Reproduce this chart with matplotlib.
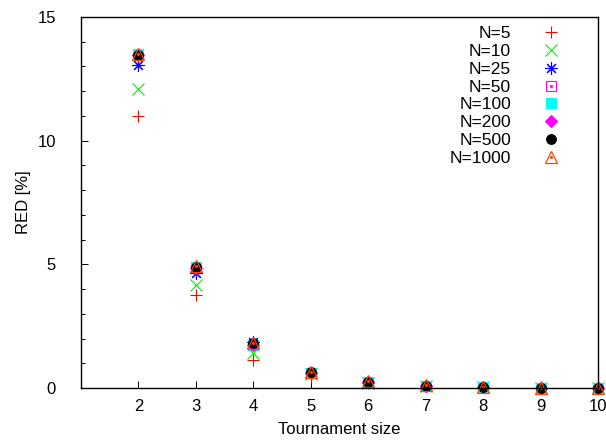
import numpy as np
import matplotlib
matplotlib.use("Agg")
import matplotlib.pyplot as plt
from matplotlib.legend_handler import HandlerTuple

plt.rcParams["font.family"] = ["Liberation Sans", "DejaVu Sans"]

# ==================================================
# Daten
# ==================================================
tournament = [2, 3, 4, 5, 6, 7, 8, 9, 10]

labels = ["N=5", "N=10", "N=25", "N=50", "N=100", "N=200", "N=500", "N=1000"]

red_n5 = [11.0, 3.75, 1.15, 0.45, 0.2, 0.08, 0.04, 0.02, 0.01]
red_n10 = [12.1, 4.15, 1.4, 0.55, 0.22, 0.09, 0.04, 0.02, 0.01]
red_n25 = [13.05, 4.65, 1.85, 0.62, 0.25, 0.1, 0.05, 0.02, 0.01]
red_n50 = [13.5, 4.9, 1.75, 0.62, 0.25, 0.1, 0.05, 0.02, 0.01]
red_n100 = [13.5, 4.9, 1.75, 0.6, 0.25, 0.1, 0.05, 0.02, 0.01]
red_n200 = [13.45, 4.85, 1.75, 0.6, 0.25, 0.1, 0.05, 0.02, 0.01]
red_n500 = [13.45, 4.88, 1.8, 0.65, 0.26, 0.1, 0.05, 0.02, 0.01]
red_n1000 = [13.5, 4.92, 1.82, 0.66, 0.27, 0.11, 0.05, 0.02, 0.01]

series = [red_n5, red_n10, red_n25, red_n50, red_n100, red_n200, red_n500, red_n1000]

# ==================================================
# Plot
# ==================================================
FS = 12
fig = plt.figure(figsize=(6.06, 4.42), dpi=100)
ax = fig.add_axes([81 / 606, 1 - 388 / 442, 517 / 606, 371 / 442])

styles = [
    dict(marker="+", color="#ff0000", ms=9, mew=0.8),
    dict(marker="x", color="#00ee00", ms=8, mew=0.8),
    dict(marker=(8, 2, 0), color="#0000ff", ms=9, mew=0.8),
    dict(marker="s", color="#ff00ff", mfc="none", ms=7, mew=0.8),
    dict(marker="s", color="#00ffff", ms=7, mew=0.8),
    dict(marker="D", color="#ff00ff", ms=6, mew=0.8),
    dict(marker="o", color="#000000", ms=7, mew=0.8),
    dict(marker="^", color="#ff4500", mfc="none", ms=8, mew=0.9),
]
dotted = {3, 7}

handles = []
for i, (vals, st) in enumerate(zip(series, styles)):
    h, = ax.plot(tournament, vals, ls="none", clip_on=False, **st)
    if i in dotted:
        d, = ax.plot(tournament, vals, ls="none", marker="o", ms=1.2,
                     color=st["color"], clip_on=False)
        handles.append((h, d))
    else:
        handles.append(h)

ax.set_xlim(1, 10)
ax.set_ylim(0, 15)
ax.set_xticks(tournament)
ax.set_yticks([0, 5, 10, 15])
ax.set_yticks(np.arange(0, 15, 1), minor=True)
ax.tick_params(axis="both", which="both", direction="in", labelsize=FS)
ax.tick_params(which="major", length=5, width=0.7)
ax.tick_params(which="minor", length=3, width=0.7)
ax.tick_params(axis="x", pad=8)
ax.tick_params(axis="y", pad=18)
for sp in ax.spines.values():
    sp.set_linewidth(1.0)

ax.set_xlabel("Tournament size", fontsize=FS, labelpad=6)
ax.set_ylabel("RED [%]", fontsize=FS, labelpad=5)

ax.legend(handles, labels, loc="upper right", bbox_to_anchor=(0.957, 1.008),
          frameon=False, markerfirst=False, fontsize=12.5,
          handler_map={tuple: HandlerTuple(ndivide=1, pad=0)},
          handlelength=1.5, handletextpad=1.53, labelspacing=0.15,
          borderaxespad=0.3)

plt.savefig("out.png", dpi=100)
